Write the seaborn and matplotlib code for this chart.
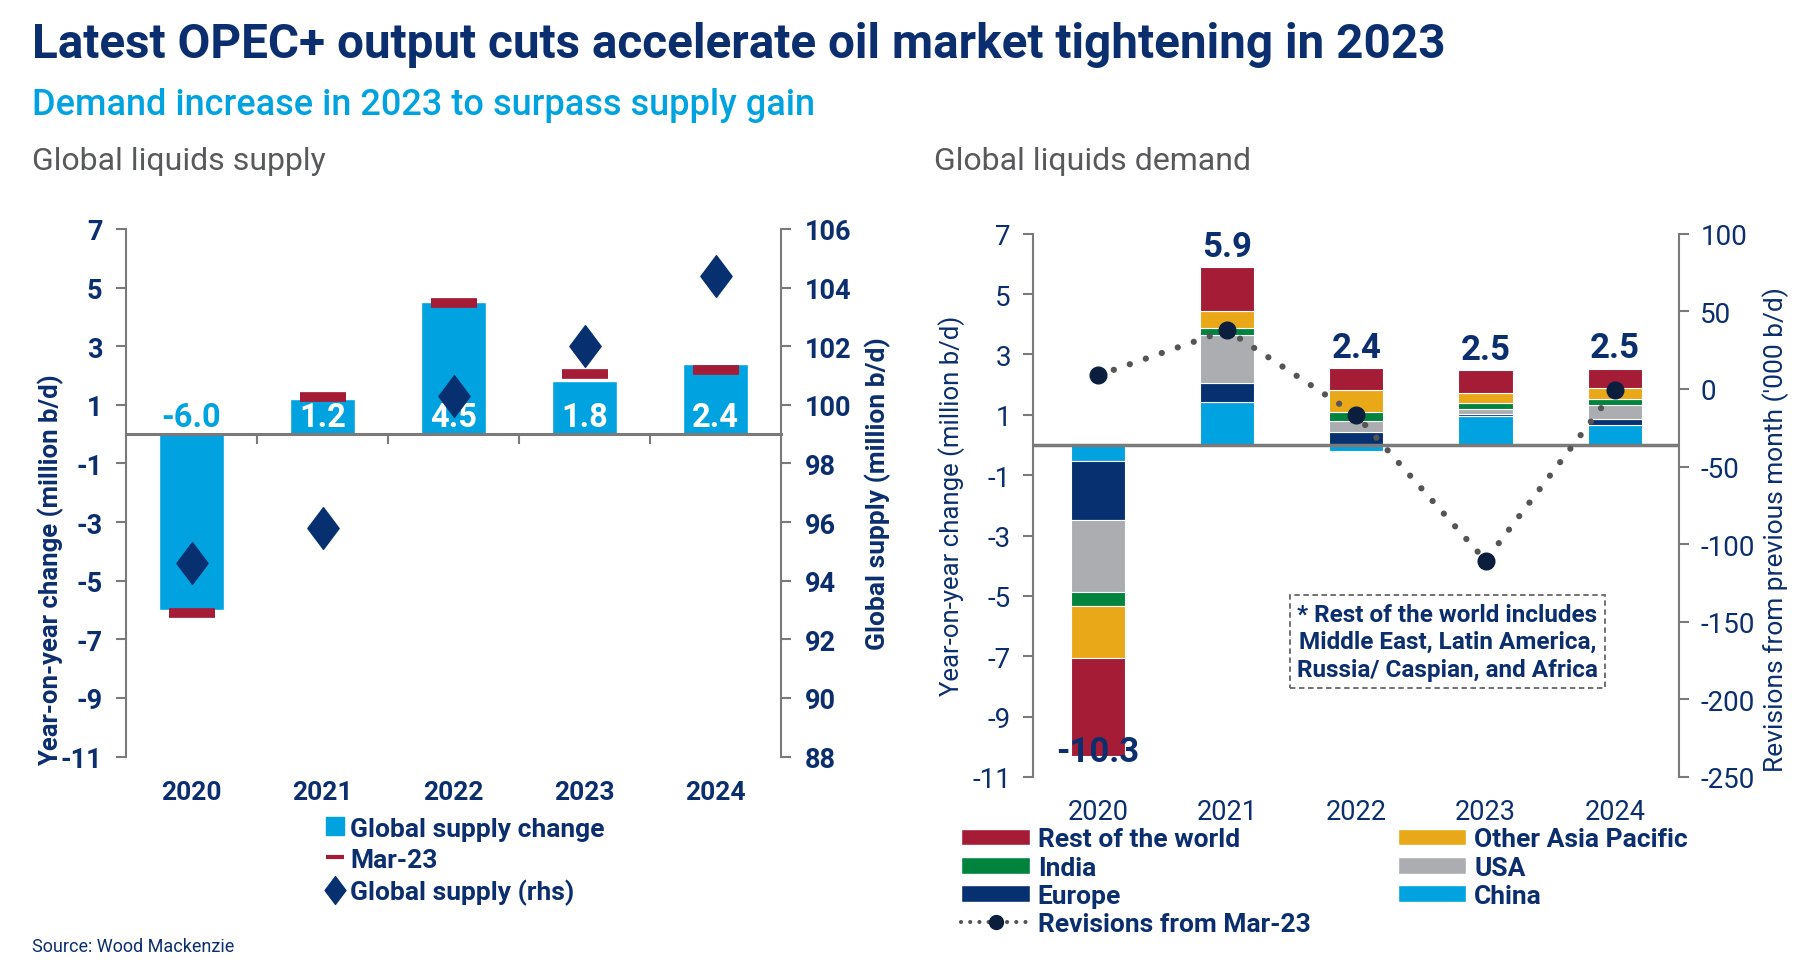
import numpy as np
import pandas as pd
import matplotlib
matplotlib.use("Agg")
import matplotlib.pyplot as plt
import seaborn as sns
from matplotlib.lines import Line2D
from matplotlib.patches import Patch
from matplotlib.path import Path

# ---------------- data ----------------
years = ["2020", "2021", "2022", "2023", "2024"]

supply_change = [-6.0, 1.2, 4.5, 1.8, 2.4]
supply_mar23 = [-6.1, 1.25, 4.47, 2.05, 2.17]
global_supply = [94.6, 95.8, 100.3, 102.0, 104.4]
supply_labels = ["-6.0", "1.2", "4.5", "1.8", "2.4"]

china = [-0.54, 1.42, -0.19, 0.97, 0.66]
europe = [-1.96, 0.63, 0.44, 0.05, 0.19]
usa = [-2.37, 1.58, 0.34, 0.17, 0.47]
india = [-0.48, 0.26, 0.32, 0.21, 0.19]
other_asia = [-1.71, 0.55, 0.72, 0.33, 0.38]
rest_world = [-3.24, 1.45, 0.74, 0.76, 0.64]
demand_labels = ["-10.3", "5.9", "2.4", "2.5", "2.5"]
revisions = [8.7, 37.9, -16.8, -110.6, -0.7]

left_ticks = list(range(-11, 8, 2))
supply_ticks = list(range(88, 107, 2))
rev_ticks = list(range(-250, 101, 50))

# ---------------- style ----------------
NAVY = "#0B2F6E"
BLUE = "#00A3E0"
RED = "#A51C36"
GOLD = "#E9A818"
GREEN = "#00843D"
GREYBAR = "#ABADB0"
EURO = "#06306F"
GRAY = "#7A7A7A"
SUBGRAY = "#58595B"

sns.set_theme(style="white")
plt.rcParams["font.family"] = ["Roboto", "DejaVu Sans"]
plt.rcParams["axes.unicode_minus"] = False

fig = plt.figure(figsize=(18, 9.7), dpi=100)

fig.text(0.018, 0.954, "Latest OPEC+ output cuts accelerate oil market tightening in 2023",
         fontsize=34.3, fontweight="bold", color=NAVY, va="center", ha="left")
fig.text(0.018, 0.891, "Demand increase in 2023 to surpass supply gain",
         fontsize=26, fontweight="medium", color=BLUE, va="center", ha="left")
fig.text(0.018, 0.834, "Global liquids supply", fontsize=23, color=SUBGRAY, va="center", ha="left")
fig.text(0.519, 0.834, "Global liquids demand", fontsize=23, color=SUBGRAY, va="center", ha="left")
fig.text(0.018, 0.024, "Source: Wood Mackenzie", fontsize=13, color=NAVY, va="center", ha="left")

# ================= left chart: supply =================
ax1 = fig.add_axes([0.070, 0.219, 0.364, 0.544])
sns.barplot(x=years, y=supply_change, ax=ax1, color=BLUE, saturation=1, width=0.5, zorder=2)
xpos = np.arange(len(years))
ax1.plot(xpos, supply_mar23, ls="none", marker="_", ms=33, mew=7, color=RED, zorder=3)
ax1.set_xlim(-0.5, 4.5)
ax1.set_ylim(-11, 7)
ax1.set_yticks(left_ticks)
ax1.set_yticklabels([str(t) for t in left_ticks])
ax1.set_xlabel("")
ax1.set_ylabel("Year-on-year change (million b/d)", fontsize=18.5, fontweight="bold", color=NAVY)
ax1.yaxis.set_label_coords(-0.095, 0.356)

for s in ["top", "right"]:
    ax1.spines[s].set_visible(False)
ax1.spines["left"].set_color(GRAY)
ax1.spines["left"].set_linewidth(1.5)
ax1.spines["bottom"].set_position(("data", 0))
ax1.spines["bottom"].set_color(GRAY)
ax1.spines["bottom"].set_linewidth(2.2)
ax1.set_xticks(xpos)
ax1.tick_params(axis="x", which="major", length=0, labelbottom=False)
ax1.set_xticks(xpos[:-1] + 0.5, minor=True)
ax1.tick_params(axis="x", which="minor", length=7, width=1.5, color=GRAY, direction="out", bottom=True)
ax1.tick_params(axis="y", left=True, length=7, width=1.5, color=GRAY, direction="out", pad=10,
                labelsize=19.5, labelcolor=NAVY)
for lab in ax1.get_yticklabels():
    lab.set_fontweight("bold")

sec1 = ax1.secondary_xaxis(0.0)
sec1.set_xticks(xpos)
sec1.set_xticklabels(years)
sec1.tick_params(length=0, pad=17, labelsize=19, labelcolor=NAVY)
for lab in sec1.get_xticklabels():
    lab.set_fontweight("bold")
for s in sec1.spines.values():
    s.set_visible(False)

for i, (v, lbl) in enumerate(zip(supply_change, supply_labels)):
    ax1.annotate(lbl, (i, 0), xytext=(0, 1), textcoords="offset points", ha="center", va="bottom",
                 fontsize=23.5, fontweight="bold", color=(BLUE if v < 0 else "white"), zorder=4)

ax1r = ax1.twinx()
diamond = Path([(0, 1), (0.75, 0), (0, -1), (-0.75, 0), (0, 1)],
               [Path.MOVETO, Path.LINETO, Path.LINETO, Path.LINETO, Path.CLOSEPOLY])
ax1r.plot(xpos, global_supply, ls="none", marker=diamond, ms=30, color=EURO, mec=EURO, zorder=5)
ax1r.set_ylim(88, 106)
ax1r.set_yticks(supply_ticks)
ax1r.set_yticklabels([str(t) for t in supply_ticks])
for s in ["top", "bottom", "left"]:
    ax1r.spines[s].set_visible(False)
ax1r.spines["right"].set_color(GRAY)
ax1r.spines["right"].set_linewidth(1.5)
ax1r.tick_params(axis="y", right=True, length=7, width=1.5, color=GRAY, direction="out", pad=10,
                 labelsize=19.5, labelcolor=NAVY)
for lab in ax1r.get_yticklabels():
    lab.set_fontweight("bold")
ax1r.set_ylabel("Global supply (million b/d)", fontsize=19, fontweight="bold", color=NAVY)
ax1r.yaxis.set_label_coords(1.127, 0.5)

leg1_handles = [
    Line2D([], [], ls="none", marker="s", ms=13, color=BLUE),
    Line2D([], [], ls="none", marker="_", ms=13, mew=3, color=RED),
    Line2D([], [], ls="none", marker=diamond, ms=20, color=EURO),
]
fig.legend(leg1_handles, ["Global supply change", "Mar-23", "Global supply (rhs)"],
           loc="upper left", bbox_to_anchor=(0.180, 0.157), frameon=False, borderpad=0,
           borderaxespad=0, handlelength=0.8, handletextpad=0.2, labelspacing=0.26,
           prop={"size": 19, "weight": "bold"}, labelcolor=NAVY)

# ================= right chart: demand =================
ax2 = fig.add_axes([0.574, 0.198, 0.359, 0.560])
series = [("China", china, BLUE), ("Europe", europe, EURO), ("USA", usa, GREYBAR),
          ("India", india, GREEN), ("Other Asia Pacific", other_asia, GOLD),
          ("Rest of the world", rest_world, RED)]
pos_bottom = np.zeros(len(years))
neg_bottom = np.zeros(len(years))
for name, vals, col in series:
    vals = np.array(vals)
    bottoms = np.where(vals >= 0, pos_bottom, neg_bottom)
    ax2.bar(xpos, vals, bottom=bottoms, width=0.42, color=col, edgecolor="white", linewidth=0.8,
            label=name, zorder=2)
    pos_bottom = pos_bottom + np.clip(vals, 0, None)
    neg_bottom = neg_bottom + np.clip(vals, None, 0)

ax2.axhline(0, color=GRAY, lw=2.5, zorder=3)
ax2.set_xlim(-0.5, 4.5)
ax2.set_ylim(-11, 7)
ax2.set_yticks(left_ticks)
ax2.set_yticklabels([str(t) for t in left_ticks])
ax2.set_xticks(xpos)
ax2.set_xticklabels(years)
for s in ["top", "right", "bottom"]:
    ax2.spines[s].set_visible(False)
ax2.spines["left"].set_color(GRAY)
ax2.spines["left"].set_linewidth(1.5)
ax2.tick_params(axis="x", length=0, pad=15, labelsize=19.5, labelcolor=NAVY)
ax2.tick_params(axis="y", left=True, length=7, width=1.5, color=GRAY, direction="out", pad=9,
                labelsize=20, labelcolor=NAVY)
ax2.set_ylabel("Year-on-year change (million b/d)", fontsize=18.5, color=NAVY)
ax2.yaxis.set_label_coords(-0.105, 0.5)

for i, lbl in enumerate(demand_labels):
    if pos_bottom[i] > 0:
        ax2.annotate(lbl, (i, pos_bottom[i]), xytext=(0, 3), textcoords="offset points",
                     ha="center", va="bottom", fontsize=25, fontweight="bold", color=NAVY, zorder=6)
    else:
        ax2.annotate(lbl, (i, neg_bottom[i]), xytext=(0, 3), textcoords="offset points",
                     ha="center", va="center", fontsize=25, fontweight="bold", color=NAVY, zorder=6)

ax2.text(0.641, 0.249, "* Rest of the world includes\nMiddle East, Latin America,\nRussia/ Caspian, and Africa",
         transform=ax2.transAxes, ha="center", va="center", fontsize=17.5, fontweight="bold",
         color=NAVY, linespacing=1.25, zorder=7,
         bbox=dict(boxstyle="square,pad=0.3", facecolor="white", edgecolor="#666666",
                   linestyle=(0, (3, 2)), linewidth=1.3))

ax2r = ax2.twinx()
ax2r.plot(xpos, revisions, color="#555555", lw=4.5, ls=(0, (0.01, 2.7)),
          dash_capstyle="round", zorder=4)
ax2r.plot(xpos, revisions, ls="none", marker="o", ms=12, color="#0B1E3E", zorder=5)
ax2r.set_ylim(-250, 100)
ax2r.set_yticks(rev_ticks)
ax2r.set_yticklabels([str(t) for t in rev_ticks])
for s in ["top", "bottom", "left"]:
    ax2r.spines[s].set_visible(False)
ax2r.spines["right"].set_color(GRAY)
ax2r.spines["right"].set_linewidth(1.5)
ax2r.tick_params(axis="y", right=True, length=7, width=1.5, color=GRAY, direction="out", pad=8,
                 labelsize=20, labelcolor=NAVY)
ax2r.set_ylabel("Revisions from previous month ('000 b/d)", fontsize=19, color=NAVY)
ax2r.yaxis.set_label_coords(1.128, 0.457)

leg2_handles = [
    Patch(facecolor=RED), Patch(facecolor=GREEN), Patch(facecolor=EURO),
    Line2D([], [], color="#555555", lw=3, ls=(0, (0.01, 2.2)), dash_capstyle="round",
           marker="o", ms=10, mfc="#0B1E3E", mec="#0B1E3E"),
    Patch(facecolor=GOLD), Patch(facecolor=GREYBAR), Patch(facecolor=BLUE),
]
leg2_labels = ["Rest of the world", "India", "Europe", "Revisions from Mar-23",
               "Other Asia Pacific", "USA", "China"]
fig.legend(leg2_handles, leg2_labels, loc="upper left", bbox_to_anchor=(0.534, 0.146), ncol=2,
           frameon=False, borderpad=0, borderaxespad=0, handlelength=2.6, handleheight=0.6,
           handletextpad=0.3, labelspacing=0.16, columnspacing=3.3, numpoints=1,
           prop={"size": 19, "weight": "bold"}, labelcolor=NAVY)

fig.savefig("out.png", dpi=100)
